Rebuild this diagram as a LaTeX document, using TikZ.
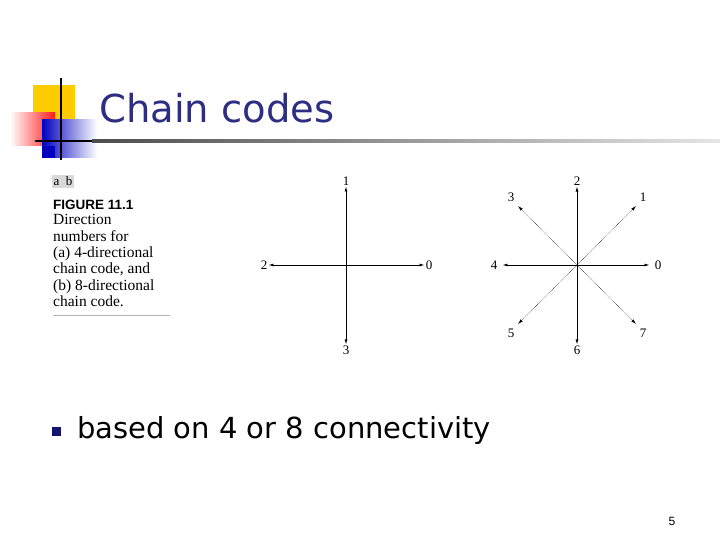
\documentclass[tikz,border=0pt]{standalone}
\usepackage{fontspec}
\setmainfont{Liberation Serif}
\newfontfamily\comic{DejaVu Sans}
\newfontfamily\heros{Liberation Sans}
\usetikzlibrary{arrows.meta}
\definecolor{titleblue}{RGB}{45,45,130}
\definecolor{bulletblue}{RGB}{20,20,110}
\definecolor{gold}{RGB}{255,204,0}
\begin{document}
\begin{tikzpicture}[x=1pt,y=-1pt,
  arr/.style={-{Latex[length=5pt,width=3pt]},line width=0.8pt,shorten >=1pt},
  darr/.style={-{Latex[length=5pt,width=3pt]},line width=0.5pt,densely dotted},
  num/.style={font=\fontsize{13}{13}\selectfont,inner sep=0pt},
  captxt/.style={font=\fontsize{15.5}{16}\selectfont,anchor=base west,inner sep=0pt}]
\useasboundingbox (0,0) rectangle (720,540);
% decoration
\fill[gold] (33,85) rectangle (75,122);
\shade[left color=white,right color=red!90] (10,113) rectangle (55,146);
\shade[left color=blue!75!black,right color=white] (42,120) rectangle (97,158);
\fill[blue!75!black] (42,146) rectangle (55,158);
\draw[line width=1.6pt] (61,78) -- (61,160);
\draw[line width=1.6pt] (35,141) -- (92,141);
\shade[left color=black!70,right color=black!10] (92,139.8) rectangle (720,142.2);
\node[anchor=west,text=titleblue,font=\comic\fontsize{38.5}{38.5}\selectfont,inner sep=0pt] (title) at (99,108) {Chain codes};
% caption
\node[fill=black!15,font=\fontsize{13}{13}\selectfont,inner sep=1.5pt,anchor=west] (ab) at (52,181.5) {a\,\,\,b};
\node[captxt,font=\heros\bfseries\fontsize{13.5}{14}\selectfont] (fig) at (53,210) {FIGURE 11.1};
\node[captxt] (l1) at (53,225) {Direction};
\node[captxt] (l2) at (53,241) {numbers for};
\node[captxt] (l3) at (53,257) {(a) 4-directional};
\node[captxt] (l4) at (53,273) {chain code, and};
\node[captxt] (l5) at (53,290) {(b) 8-directional};
\node[captxt] (l6) at (53,306) {chain code.};
\draw[black!30,line width=0.6pt] (53,315) -- (170,315);
% 4-directional
\coordinate (c4) at (346,265);
\node[num] (a0) at (429,265) {0};
\node[num] (a1) at (346,181) {1};
\node[num] (a2) at (264,265) {2};
\node[num] (a3) at (346,350) {3};
\draw[arr] (c4) -- (a0.west);
\draw[arr] (c4) -- (a1.south);
\draw[arr] (c4) -- (a2.east);
\draw[arr] (c4) -- (a3.north);
% 8-directional
\coordinate (c8) at (577,265);
\node[num] (b0) at (658,265) {0};
\node[num] (b1) at (643,197) {1};
\node[num] (b2) at (577,181) {2};
\node[num] (b3) at (511,197) {3};
\node[num] (b4) at (494,265) {4};
\node[num] (b5) at (511,333) {5};
\node[num] (b6) at (577,350) {6};
\node[num] (b7) at (643,333) {7};
\coordinate (d1) at (636,206);
\coordinate (d3) at (518,206);
\coordinate (d5) at (518,324);
\coordinate (d7) at (636,324);
\draw[arr] (c8) -- ([xshift=-4pt]b0.west);
\draw[arr] (c8) -- (b2.south);
\draw[arr] (c8) -- ([xshift=4pt]b4.east);
\draw[arr] (c8) -- (b6.north);
\draw[darr] (c8) -- (d1);
\draw[darr] (c8) -- (d3);
\draw[darr] (c8) -- (d5);
\draw[darr] (c8) -- (d7);
% bullet
\fill[bulletblue] (52,427) rectangle (61,436);
\node[anchor=west,font=\comic\fontsize{29}{29}\selectfont,inner sep=0pt] (bul) at (77,430) {based on 4 or 8 connectivity};
\node[font=\heros\fontsize{12}{12}\selectfont,inner sep=0pt] (pg) at (672,521) {5};
\end{tikzpicture}
\end{document}
